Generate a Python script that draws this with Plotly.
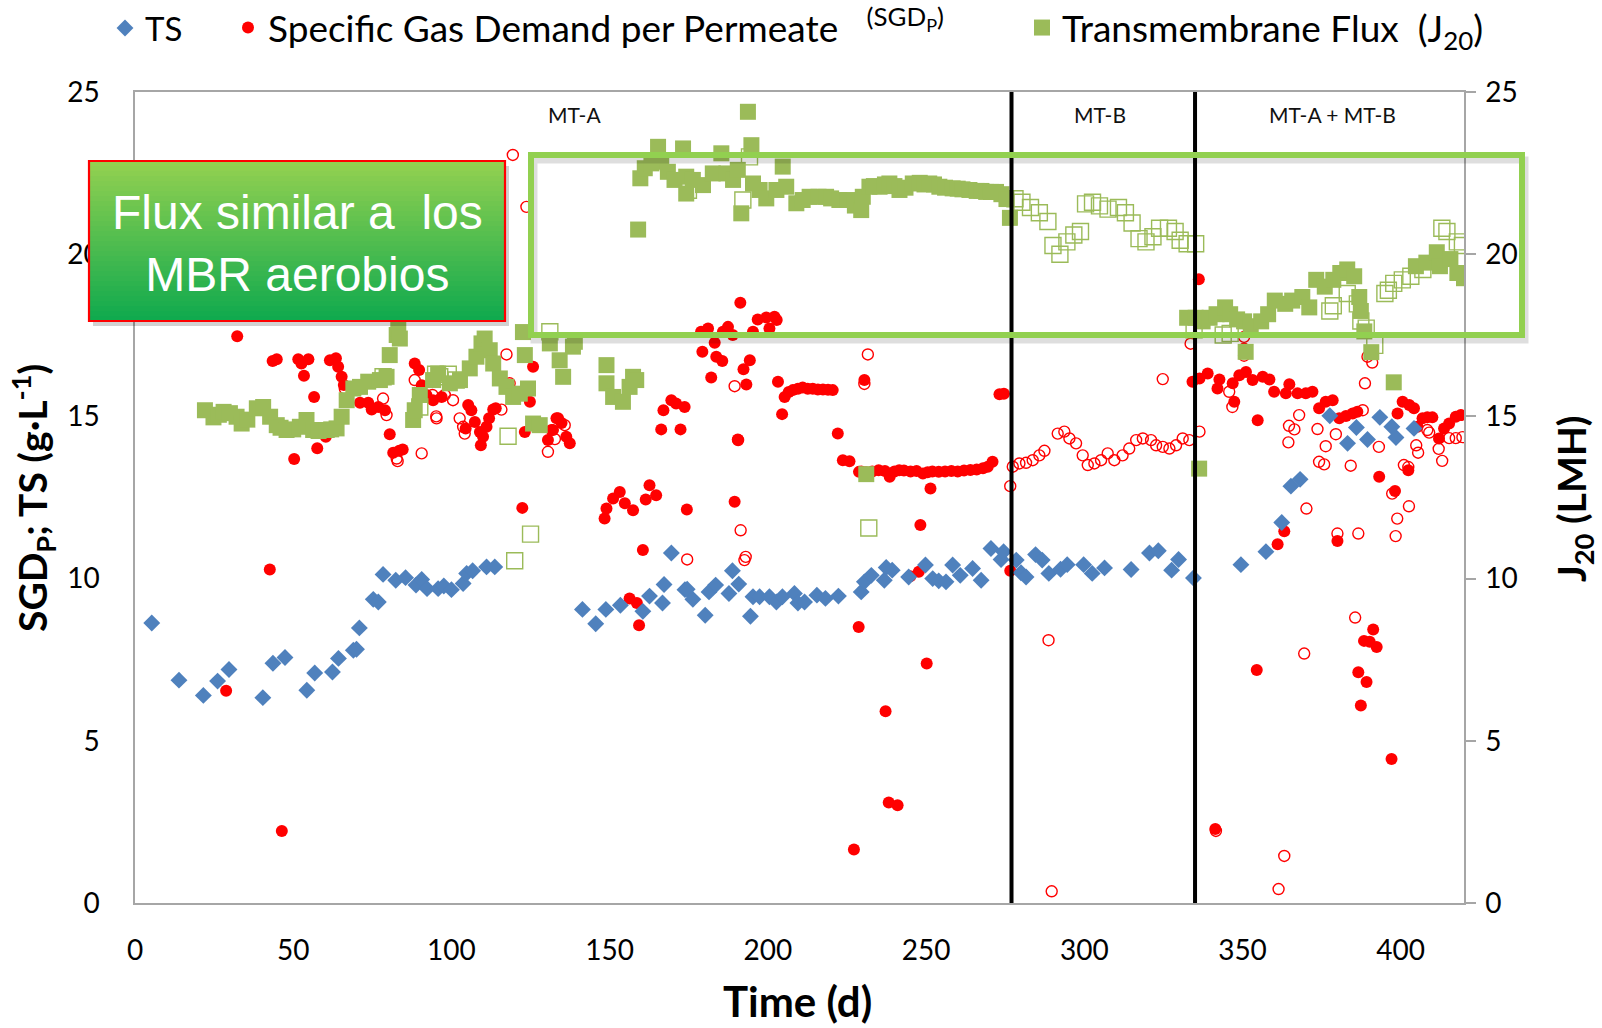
import plotly.graph_objects as go

# ---------------- data ----------------
ts_day = [5.3, 13.9, 21.6, 26.1, 29.7, 40.4, 43.6, 47.4, 54.3, 56.8, 62.4, 64.3, 69.0, 70.0, 70.9,
          75.3, 76.9, 78.4, 82.4, 85.5, 88.8, 90.6, 92.3, 95.8, 97.6, 100.0, 103.7, 104.8, 106.7,
          111.1, 113.7, 141.4, 145.6, 148.8, 153.4, 160.5, 162.6, 166.7, 167.2, 169.5, 173.8,
          174.5, 176.3, 180.2, 181.4, 183.5, 187.7, 188.8, 190.8, 194.5, 195.3, 197.4, 200.5,
          202.7, 204.6, 208.4, 209.5, 211.6, 215.5, 218.2, 222.3, 229.5, 230.5, 232.7, 236.8,
          237.4, 239.3, 244.5, 249.8, 252.1, 254.0, 256.3, 258.4, 260.8, 264.7, 267.4, 270.5,
          273.7, 274.5, 278.5, 280.0, 281.6, 284.6, 286.7, 288.8, 292.5, 294.6, 299.8, 302.5,
          306.4, 314.8, 320.6, 323.4, 327.6, 329.8, 334.5, 349.5, 357.4, 362.4, 365.3, 368.2,
          377.6, 383.2, 386.0, 389.5, 393.4, 397.2, 398.5, 404.2]
ts_val = [8.63, 6.87, 6.40, 6.84, 7.20, 6.33, 7.39, 7.57, 6.56, 7.09, 7.12, 7.54, 7.79, 7.82, 8.48,
          9.36, 9.28, 10.13, 9.95, 10.03, 9.80, 9.97, 9.69, 9.69, 9.77, 9.66, 9.85, 10.16, 10.24,
          10.36, 10.36, 9.05, 8.61, 9.05, 9.18, 8.99, 9.46, 9.25, 9.82, 10.79, 9.66,
          9.67, 9.36, 8.87, 9.59, 9.80, 9.54, 10.24, 9.83, 8.84, 9.44, 9.44, 9.44,
          9.28, 9.44, 9.54, 9.25, 9.28, 9.49, 9.39, 9.46, 9.59, 9.90, 10.10, 9.95,
          10.34, 10.26, 10.05, 10.42, 10.00, 9.93, 9.90, 10.42, 10.10, 10.31, 9.95, 10.93,
          10.59, 10.83, 10.57, 10.18, 10.05, 10.74, 10.57, 10.16, 10.29, 10.43, 10.43, 10.16,
          10.33, 10.28, 10.79, 10.86, 10.26, 10.59, 10.02, 10.43, 10.83, 11.73, 12.85, 13.06,
          15.02, 14.17, 14.66, 14.29, 14.97, 14.68, 14.35, 14.63]

sgd_day = [28.8, 32.3, 42.6, 43.5, 44.8, 46.4, 50.3, 51.6, 52.6, 53.4, 54.8, 56.6, 57.6, 60.3,
           61.6, 63.5, 64.2, 65.3, 66.0, 71.1, 73.7, 74.8, 76.9, 79.0, 80.5, 81.6, 83.5, 84.6,
           88.4, 89.8, 90.6, 92.1, 94.2, 96.9, 104.5, 105.3, 106.3, 107.4, 109.0, 109.3, 110.0,
           111.1, 111.9, 113.2, 114.0, 122.4, 123.2, 124.8, 125.8, 130.5, 131.6, 132.1, 133.2,
           133.7, 134.8, 136.3, 137.4, 148.4, 149.0, 151.1, 153.2, 154.8, 156.3, 157.4, 158.6,
           159.3, 160.5, 161.4, 162.6, 164.7, 166.3, 167.0, 169.5, 171.0, 172.4, 173.7, 174.4,
           178.9, 179.3, 181.1, 182.1, 183.2, 183.7, 185.6, 185.8, 187.4, 188.9, 189.5, 190.5,
           191.3, 192.3, 193.2, 194.3, 195.3, 196.8, 199.5, 200.5, 202.1, 202.8, 203.2, 204.5,
           205.3, 206.6, 207.9, 209.5, 211.0, 212.6, 214.2, 215.8, 217.4, 219.0, 220.5, 222.1,
           223.7, 225.8, 227.2, 228.7, 228.8, 229.5, 230.5, 231.0, 233.0, 235.0, 237.0, 237.2,
           238.2, 238.5, 240.0, 241.0, 241.5, 243.0, 245.0, 245.1, 247.0, 247.7, 248.2, 249.0,
           250.2, 250.5, 251.4, 252.0, 254.0, 256.0, 258.0, 260.0, 262.0, 264.0, 266.0, 268.0,
           269.5, 271.0, 273.2, 274.6, 276.6,
           334.2, 336.2, 336.4, 339.0, 341.4, 342.1, 342.7, 346.9, 347.4, 349.0, 350.5, 351.1,
           353.2, 354.5, 354.8, 356.4, 358.5, 360.0, 361.1, 363.2, 363.7, 364.8, 367.4, 370.0,
           372.1, 374.2, 376.3, 378.5, 380.0, 380.6, 382.7, 384.8, 386.3, 386.6, 387.4, 388.4,
           389.2, 390.2, 391.3, 392.4, 393.2, 397.1, 398.2, 399.0, 400.6, 402.4, 402.7, 404.2,
           405.3, 406.9, 408.4, 410.0, 412.1, 413.7, 415.3, 417.4, 419.0]
sgd_val = [6.54, 17.47, 10.28, 16.71, 16.76, 2.22, 13.69, 16.76, 16.63, 16.25, 16.76, 15.60, 14.02, 14.37,
           16.73, 16.79, 16.53, 16.22, 15.97, 15.42, 15.42, 15.21, 15.29, 15.19, 14.45, 13.88, 13.94, 13.98,
           16.63, 16.43, 15.96, 15.66, 15.50, 15.60, 14.63, 15.35, 15.19, 14.83, 14.52, 14.11, 14.37,
           14.68, 14.94, 15.21, 15.25, 12.18, 14.52, 15.45, 16.53, 14.27, 14.58, 14.58, 14.94,
           14.94, 14.80, 14.37, 14.17, 11.85, 12.16, 12.47, 12.67, 12.32, 9.39, 12.11, 9.25,
           8.56, 10.88, 12.44, 12.88, 12.57, 14.60, 15.19, 15.50, 15.40, 14.60, 15.29, 12.13,
           17.61, 16.99, 17.71, 16.20, 17.27, 16.84, 16.71, 17.61, 17.76, 17.51, 12.37, 14.29,
           18.50, 16.45, 15.98, 16.73, 17.61, 17.99, 18.05, 17.71, 18.07, 17.97, 16.07, 15.07,
           15.60, 15.75, 15.81, 15.85, 15.89, 15.85, 15.85, 15.83, 15.83, 15.82, 15.81, 14.47,
           13.65, 13.62, 1.65, 8.51, 13.29, 13.30, 16.12, 13.28, 13.30, 13.34, 13.32, 5.91,
           3.10, 13.14, 13.30, 3.01, 13.34, 13.33, 10.07, 13.30, 13.32, 10.21, 11.65, 13.24,
           7.38, 13.28, 12.78, 13.30, 13.29, 13.30, 13.32, 13.30, 13.33, 13.35, 13.36, 13.40,
           13.45, 13.60, 15.68, 15.70, 10.24,
           16.07, 19.23, 16.17, 16.32, 2.28, 15.86, 16.14, 16.02, 15.45, 16.27, 17.09, 16.37,
           16.12, 7.18, 14.88, 16.22, 16.14, 15.76, 11.06, 11.46, 15.71, 15.99, 15.71, 15.71,
           15.76, 15.25, 15.45, 15.50, 11.16, 14.94, 15.01, 15.09, 15.14, 7.11, 6.09, 8.08,
           6.81, 8.05, 8.43, 7.89, 13.14, 4.44, 12.70, 15.09, 15.45, 13.34, 15.35, 15.25,
           14.68, 14.94, 14.97, 14.97, 14.32, 14.63, 14.78, 14.99, 15.04]

sgd_open_day = [66.3, 78.4, 79.5, 82.7, 83.0, 88.4, 89.5, 90.6, 94.0, 95.2, 95.3, 97.9, 100.5, 102.6,
                103.7, 104.2, 115.8, 117.4, 118.4, 119.4, 123.7, 130.5, 132.7, 135.8, 174.5, 189.5,
                190.6, 191.4, 192.6, 193.0, 230.5, 231.6, 276.6,
                277.4, 279.5, 281.6, 283.7, 285.8, 287.4, 288.7, 289.7, 291.6, 293.7, 295.3, 297.4,
                299.5, 301.1, 303.2, 305.3, 307.4, 309.5, 312.1, 314.2, 316.4, 318.5, 321.1, 322.7,
                324.8, 324.8, 326.9, 329.0, 331.1, 333.2, 333.6, 336.4,
                341.6, 345.8, 346.8, 350.5, 350.5, 361.4, 363.2, 364.5, 364.7, 366.4, 367.9, 369.5,
                370.2, 373.7, 374.2, 375.8, 376.3, 379.5, 380.0, 384.2, 385.6, 386.6, 388.0, 388.7,
                389.5, 391.0, 393.1, 397.3, 398.4, 398.9, 401.0, 402.4, 402.6, 404.9, 405.5, 408.4,
                409.0, 412.0, 413.1, 415.3, 417.4, 419.5]
sgd_open_val = [15.86, 15.55, 15.04, 13.70, 13.62, 16.12, 15.66, 13.86, 15.66, 15.00, 14.94, 15.66, 15.50, 14.94,
                14.68, 14.47, 15.21, 16.91, 16.02, 23.06, 21.46, 13.91, 14.30, 14.73, 10.59, 15.93,
                14.27, 11.49, 10.57, 10.67, 16.00, 16.91, 12.85,
                13.45, 13.55, 13.57, 13.65, 13.80, 13.94, 8.10, 0.36, 14.47, 14.53, 14.32, 14.17,
                13.80, 13.50, 13.55, 13.65, 13.86, 13.65, 13.80, 14.01, 14.27, 14.32, 14.27, 14.11,
                14.06, 16.15, 14.01, 14.11, 14.32, 14.27, 17.24, 14.53,
                2.22, 15.76, 15.29, 16.87, 17.45, 0.43, 1.45, 14.20, 14.71, 14.60, 15.04, 7.69,
                12.16, 14.61, 13.60, 13.52, 14.08, 14.45, 11.39, 13.48, 8.80, 11.39, 15.19, 16.02,
                16.84, 16.66, 14.06, 12.62, 11.31, 11.85, 13.50, 13.44, 12.23, 14.11, 13.88, 14.58,
                14.50, 14.00, 13.63, 14.33, 14.33, 14.36]

j20_day = [22.1, 24.8, 26.5, 28.0, 30.0, 32.1, 33.7, 35.5, 38.5, 40.5, 42.7, 44.8, 46.0, 47.9, 50.0,
           52.1, 54.2, 56.3, 58.0, 60.6, 62.0, 63.7, 65.3, 66.9, 69.0, 71.1, 73.7, 77.4, 79.5, 80.5,
           82.7, 83.2, 83.7, 87.9, 88.4, 90.0, 94.2, 95.8, 99.5, 102.7, 105.8, 107.9, 109.5, 110.5,
           112.1, 113.2, 115.3, 117.4, 119.5, 121.6, 122.6, 123.2, 124.2, 125.8, 127.9, 131.1,
           134.2, 135.3, 138.4, 139.0, 149.0, 149.0, 151.1, 154.2, 156.3, 157.4, 158.4,
           159.0, 159.7, 161.1, 163.2, 165.3, 166.3, 168.4, 170.5, 173.2, 174.2, 174.2, 176.3,
           179.5, 182.6, 185.3, 186.9, 189.0, 190.5, 191.6, 193.7, 194.8, 195.3, 197.4, 199.5,
           202.7, 204.7, 205.8, 209.0, 211.0, 213.2, 216.0, 218.4, 220.0, 222.6, 225.3, 227.5,
           229.5, 230.0, 231.1, 232.1, 233.5, 235.3, 237.0, 238.4, 240.0, 241.6, 243.5, 245.8,
           248.0, 249.5, 251.0, 252.5, 254.2, 256.0, 258.4, 260.0, 261.5, 263.7, 266.0, 267.5,
           269.0, 270.5, 272.1, 273.8, 275.4, 276.5,
           332.5, 335.2, 336.3, 337.4, 339.6, 341.8, 344.5, 346.1, 348.3, 350.5, 351.0, 352.6,
           355.9, 358.1, 360.2, 363.5, 365.7, 368.9, 371.1, 373.3, 376.0, 378.7, 380.9, 383.1,
           385.3, 386.9, 387.4, 388.5, 390.7, 397.8, 404.8, 408.1, 411.4, 412.4, 415.7, 417.9,
           420.0]
j20_val = [15.19, 14.97, 15.05, 15.14, 15.10, 14.99, 14.78, 14.90, 15.25, 15.29, 14.99, 14.73, 14.65, 14.58, 14.60,
           14.68, 14.89, 14.58, 14.55, 14.58, 14.60, 14.63, 14.99, 15.50, 15.86, 15.91, 16.07, 16.12, 16.22, 16.89,
           17.51, 17.71, 17.40, 14.89, 15.19, 15.66, 16.12, 16.32, 16.02, 16.12, 16.48, 16.84, 17.25, 17.40,
           17.04, 16.63, 16.17, 15.91, 15.60, 15.70, 17.60, 16.89, 15.86, 14.78, 14.73, 17.25,
           16.73, 16.22, 17.15, 17.30, 16.58, 16.02, 15.60, 15.45, 15.91, 16.22, 16.12,
           20.76, 22.34, 22.65, 22.80, 23.31, 22.85, 22.54, 22.29, 23.26, 21.87, 22.39, 22.29,
           22.13, 22.49, 23.11, 22.49, 22.29, 22.60, 21.26, 24.39, 23.36, 22.18, 21.98, 21.72,
           21.98, 22.70, 22.08, 21.57, 21.67, 21.77, 21.77, 21.77, 21.72, 21.67, 21.67, 21.50,
           21.36, 21.77, 13.22, 22.08, 22.10, 22.08, 22.15, 22.18, 22.10, 21.98, 22.05, 22.18,
           22.20, 22.15, 22.18, 22.15, 22.08, 22.05, 22.03, 22.02, 22.00, 21.98, 21.95, 21.95,
           21.92, 21.92, 21.92, 21.85, 21.70, 21.12,
           18.04, 18.04, 13.39, 17.93, 18.04, 18.15, 18.36, 18.15, 17.99, 17.93, 16.99, 17.78,
           17.93, 18.15, 18.57, 18.47, 18.57, 18.68, 18.36, 19.21, 19.00, 19.21, 19.42, 19.53,
           19.32, 18.68, 18.25, 17.62, 16.98, 16.05, 19.63, 19.74, 20.06, 19.63, 19.85, 19.42,
           19.26]

j20_open_day = [78.4, 90.0, 95.0, 96.3, 99.0, 101.5, 117.9, 120.0, 125.0, 131.1, 174.9, 192.1, 194.2,
                231.9,
                278.1, 280.3, 283.0, 285.8, 288.5, 290.1, 292.3, 294.5, 296.7, 298.8, 300.4, 302.6,
                304.8, 307.5, 310.8, 313.0, 315.1, 317.3, 319.5, 321.7, 323.8, 326.6, 328.7, 330.3,
                332.5, 335.2,
                334.7, 343.9, 346.1, 377.6, 378.7, 383.1, 386.3, 387.4, 389.1, 391.8, 395.0, 396.1,
                397.8, 400.5, 403.2, 407.0, 413.0, 414.6, 417.9, 419.5]
j20_open_val = [16.22, 15.29, 16.30, 16.22, 16.30, 16.12, 14.39, 10.55, 11.37, 17.61, 21.97, 21.67, 23.00,
                11.56,
                21.71, 21.60, 21.44, 21.28, 21.01, 20.27, 20.00, 20.38, 20.59, 20.70, 21.55, 21.60,
                21.49, 21.39, 21.44, 21.28, 20.96, 20.48, 20.38, 20.54, 20.80, 20.80, 20.70, 20.43,
                20.32, 20.32,
                17.67, 17.51, 17.56, 18.25, 18.41, 18.79, 18.47, 17.94, 17.72, 17.19, 18.79, 18.89,
                19.10, 19.21, 19.32, 19.53, 20.80, 20.70, 20.38, 20.27]

phase_bounds = [277, 335]
phase_labels = ["MT-A", "MT-B", "MT-A + MT-B"]
phase_label_day = [139, 305, 378.5]
phase_label_y = 24.3

# ---------------- figure ----------------
W, H = 1602, 1028
L, R, T, B = 135, 138, 92, 125
PW, PH = W - L - R, H - T - B


def px(x):
    return (x - L) / PW


def py(y):
    return (H - B - y) / PH


FONT = "Lato"
BLUE, RED, GREEN = "#4f81bd", "#ff0000", "#9bbb59"

fig = go.Figure()
fig.add_trace(go.Scatter(x=j20_open_day, y=j20_open_val, mode="markers", yaxis="y2", showlegend=False,
                         marker=dict(symbol="square-open", size=16, color=GREEN, line=dict(width=1.4))))
fig.add_trace(go.Scatter(x=j20_day, y=j20_val, mode="markers", yaxis="y2", legend="legend3",
                         name="Transmembrane Flux\u00a0\u00a0(J<sub>20</sub>)",
                         marker=dict(symbol="square", size=16, color=GREEN)))
fig.add_trace(go.Scatter(x=sgd_open_day, y=sgd_open_val, mode="markers", showlegend=False,
                         marker=dict(symbol="circle-open", size=11, color=RED, line=dict(width=1.4))))
fig.add_trace(go.Scatter(x=sgd_day, y=sgd_val, mode="markers", legend="legend2",
                         name="Specific Gas Demand per Permeate\u00a0\u00a0\u00a0<sup>(SGD<sub>P</sub>)</sup>",
                         marker=dict(symbol="circle", size=12, color=RED)))
fig.add_trace(go.Scatter(x=ts_day, y=ts_val, mode="markers", legend="legend", name="TS",
                         marker=dict(symbol="diamond", size=13, color=BLUE)))


def leg(xpix, size):
    return dict(x=(xpix - 20) / W, xref="container", yref="container", xanchor="left", yanchor="middle",
                y=1 - 28 / H, font=dict(family=FONT, size=size, color="black"),
                bgcolor="rgba(0,0,0,0)", borderwidth=0, itemsizing="trace")


shapes = []
for b in phase_bounds:
    shapes.append(dict(type="line", xref="x", yref="y", x0=b, x1=b, y0=0, y1=25,
                       line=dict(color="black", width=4), layer="above"))

# highlight rectangle (with soft shadow)
shapes.append(dict(type="rect", xref="paper", yref="paper", x0=px(534), x1=px(1525), y0=py(160), y1=py(340),
                   line=dict(color="rgba(0,0,0,0.13)", width=7), layer="above"))
shapes.append(dict(type="rect", xref="paper", yref="paper", x0=px(531), x1=px(1522), y0=py(155), y1=py(335),
                   line=dict(color="#92d050", width=6), layer="above"))

# gradient call-out box
bx0, bx1, by0, by1 = 89, 505, 161, 321
shapes.append(dict(type="rect", xref="paper", yref="paper", x0=px(bx0 + 4), x1=px(bx1 + 4), y0=py(by0 + 5),
                   y1=py(by1 + 5), line=dict(width=0), fillcolor="rgba(0,0,0,0.18)", layer="above"))
n = 32
top_c, bot_c = (146, 208, 80), (16, 170, 78)
for i in range(n):
    f = i / (n - 1)
    c = tuple(round(top_c[k] + (bot_c[k] - top_c[k]) * f) for k in range(3))
    ya = by0 + (by1 - by0) * i / n
    yb = by0 + (by1 - by0) * (i + 1) / n
    shapes.append(dict(type="rect", xref="paper", yref="paper", x0=px(bx0), x1=px(bx1), y0=py(ya), y1=py(yb + 0.6),
                       line=dict(width=0), fillcolor="rgb(%d,%d,%d)" % c, layer="above"))
shapes.append(dict(type="rect", xref="paper", yref="paper", x0=px(bx0), x1=px(bx1), y0=py(by0), y1=py(by1),
                   line=dict(color="#ff0000", width=2.2), layer="above"))

C = dict(xanchor="center", yanchor="middle", showarrow=False)
annotations = []
for lab, d in zip(phase_labels, phase_label_day):
    annotations.append(dict(x=d, y=phase_label_y, xref="x", yref="y", text=lab,
                            font=dict(family=FONT, size=21, color="#111111"), **C))
annotations.append(dict(x=px((bx0 + bx1) / 2), y=py((by0 + by1) / 2 + 3), xref="paper", yref="paper",
                        text="Flux similar a\u00a0\u00a0los<br>MBR aerobios", align="center",
                        font=dict(family="Liberation Sans", size=48, color="white"), **C))
annotations.append(dict(x=px(33), y=py(498), xref="paper", yref="paper", textangle=-90,
                        text="<b>SGD<sub>P</sub>; TS (g·L<sup>-1</sup>)</b>",
                        font=dict(family=FONT, size=39, color="black"), **C))
annotations.append(dict(x=px(1574), y=py(499), xref="paper", yref="paper", textangle=-90,
                        text="<b>J<sub>20</sub> (LMH)</b>", font=dict(family=FONT, size=39, color="black"), **C))
annotations.append(dict(x=px(797), y=py(1001), xref="paper", yref="paper",
                        text="<b>Time (d)</b>", font=dict(family=FONT, size=42, color="black"), **C))

axis_line = "#a6a6a6"
tickfont = dict(family=FONT, size=28, color="black")
fig.update_layout(
    width=W, height=H, margin=dict(l=L, r=R, t=T, b=B, autoexpand=False),
    plot_bgcolor="white", paper_bgcolor="white",
    xaxis=dict(range=[0, 420], tick0=0, dtick=50, showgrid=False, zeroline=False, showline=True,
               linecolor=axis_line, linewidth=1.5, mirror=True, ticks="", tickfont=tickfont,
               ticklabelstandoff=22),
    yaxis=dict(range=[0, 25], tick0=0, dtick=5, showgrid=False, zeroline=False, showline=True,
               linecolor=axis_line, linewidth=1.5, mirror=True, ticks="", tickfont=tickfont,
               ticklabelstandoff=28),
    yaxis2=dict(range=[0, 25], tick0=0, dtick=5, overlaying="y", side="right", showgrid=False,
                zeroline=False, showline=True, linecolor=axis_line, linewidth=1.5, ticks="outside",
                ticklen=10, tickcolor=axis_line, tickwidth=1.5, tickfont=tickfont, ticklabelstandoff=4),
    legend=leg(125, 33),
    legend2=leg(248, 37),
    legend3=leg(1042, 37),
    shapes=shapes, annotations=annotations,
)

fig.write_html("out.html", post_script="document.body.style.margin='0';",
               config={"displayModeBar": False})
